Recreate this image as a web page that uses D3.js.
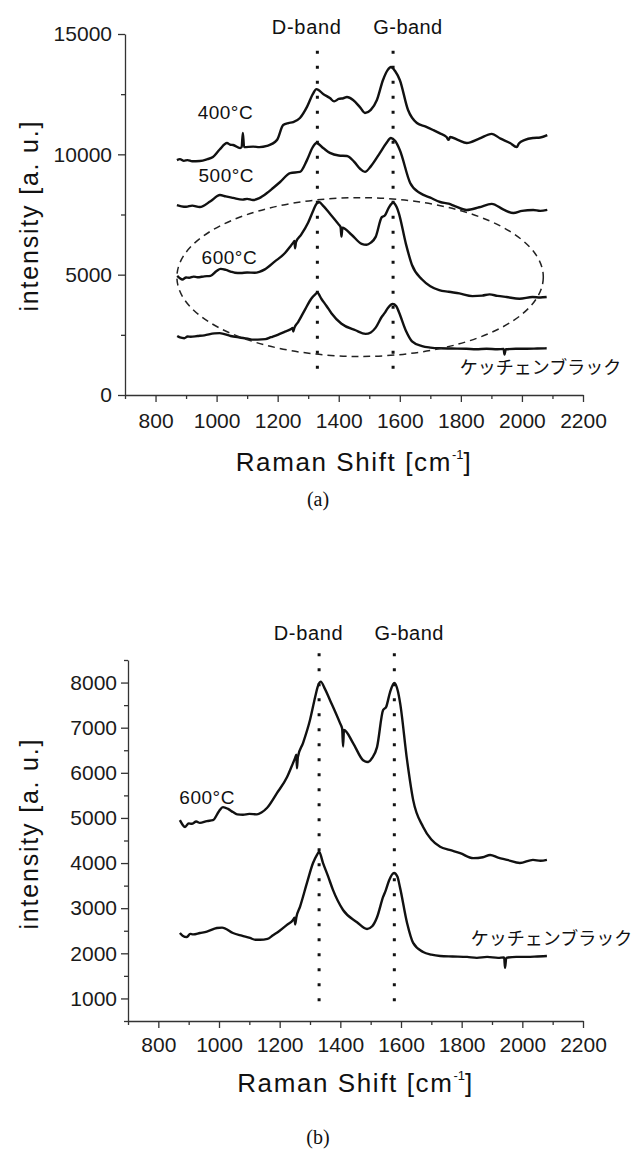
<!DOCTYPE html>
<html>
<head>
<meta charset="utf-8">
<script src="https://cdn.jsdelivr.net/npm/d3@7"></script>
<style>
  body { margin: 0; background: #fff; }
</style>
</head>
<body>
<div id="chart"></div>
<script>
// spectra: [Raman shift (cm-1), intensity (a.u.)]
var s400 = [[870, 9760], [880, 9800], [893, 9730], [905, 9760], [920, 9710], [945, 9720], [970, 9800], [988, 9890], [1010, 10200],
    [1034, 10470], [1045, 10400], [1054, 10390], [1077, 10260], [1082, 10300], [1086, 10890], [1090, 10300], [1120, 10320],
    [1140, 10300], [1165, 10350], [1198, 10600], [1218, 11220], [1235, 11300], [1251, 11340], [1273, 11510], [1296, 11970],
    [1315, 12500], [1327, 12710], [1350, 12500], [1371, 12340], [1385, 12200], [1400, 12300], [1415, 12330], [1427, 12380],
    [1447, 12260], [1470, 11950], [1486, 11720], [1505, 11850], [1525, 12260], [1545, 13090], [1560, 13500], [1571, 13630],
    [1585, 13450], [1600, 13090], [1627, 11840], [1656, 11300], [1685, 11150], [1709, 11010], [1730, 10880], [1753, 10720],
    [1760, 10600], [1765, 10720], [1790, 10600], [1819, 10470], [1860, 10650], [1901, 10850], [1930, 10650], [1961, 10470],
    [1983, 10300], [1990, 10450], [2010, 10600], [2037, 10680], [2060, 10700], [2083, 10800]];

var s500 = [[870, 7890], [885, 7840], [900, 7820], [920, 7870], [945, 7810], [980, 8050], [1011, 8310], [1030, 8250],
    [1054, 8190], [1085, 8120], [1100, 8150], [1119, 8100], [1140, 8180], [1165, 8390], [1185, 8600], [1208, 8850],
    [1241, 9220], [1273, 9270], [1296, 9760], [1315, 10300], [1327, 10470], [1350, 10250], [1371, 10060], [1400, 9950],
    [1427, 9930], [1450, 9700], [1470, 9400], [1486, 9270], [1505, 9500], [1535, 10060], [1555, 10450], [1571, 10680],
    [1585, 10550], [1600, 10180], [1634, 8810], [1666, 8390], [1700, 8200], [1732, 8020], [1760, 7950], [1780, 7850],
    [1819, 7690], [1860, 7800], [1901, 7940], [1940, 7700], [1972, 7560], [2000, 7650], [2037, 7690], [2060, 7650],
    [2083, 7690]];

var s600 = [[871, 4950], [880, 4850], [888, 4800], [900, 4880], [910, 4870], [925, 4920], [937, 4890], [960, 4930],
    [980, 4950], [1000, 5150], [1013, 5240], [1030, 5200], [1046, 5130], [1060, 5080], [1079, 5070], [1100, 5090],
    [1125, 5080], [1140, 5120], [1158, 5220], [1191, 5550], [1224, 5900], [1240, 6150], [1251, 6330], [1255, 6400],
    [1257, 6100], [1260, 6350], [1277, 6660], [1300, 7170], [1317, 7680], [1325, 7900], [1335, 8020], [1350, 7850],
    [1366, 7610], [1399, 7100], [1406, 6980], [1409, 6580], [1412, 6950], [1442, 6660], [1475, 6280], [1491, 6240],
    [1505, 6330], [1521, 6570], [1541, 7390], [1551, 7460], [1564, 7790], [1578, 7990], [1590, 7800], [1597, 7550],
    [1620, 6280], [1640, 5400], [1673, 4800], [1700, 4520], [1729, 4360], [1760, 4290], [1795, 4220], [1838, 4110],
    [1870, 4130], [1894, 4180], [1920, 4120], [1950, 4070], [1992, 4000], [2035, 4070], [2060, 4050], [2081, 4070]];

var sKetjen = [[871, 2450], [880, 2390], [894, 2360], [905, 2430], [915, 2420], [937, 2450], [960, 2480], [993, 2560],
    [1010, 2570], [1046, 2450], [1075, 2390], [1102, 2340], [1120, 2300], [1135, 2300], [1160, 2320], [1178, 2400],
    [1200, 2500], [1224, 2630], [1244, 2740], [1249, 2790], [1251, 2640], [1255, 2800], [1267, 3030], [1290, 3560],
    [1310, 4000], [1323, 4180], [1330, 4250], [1343, 4000], [1360, 3700], [1376, 3400], [1409, 2960], [1455, 2690],
    [1488, 2540], [1505, 2600], [1521, 2800], [1541, 3250], [1550, 3400], [1561, 3620], [1577, 3780], [1588, 3700],
    [1597, 3450], [1620, 2670], [1640, 2230], [1673, 2030], [1700, 1970], [1729, 1940], [1770, 1930], [1818, 1920],
    [1850, 1900], [1884, 1920], [1920, 1900], [1940, 1910], [1943, 1680], [1947, 1900], [1980, 1920], [2016, 1920],
    [2050, 1930], [2081, 1940]];

// band positions and their labels
var bandNames = ["D-band", "G-band"];
var bandShift = [1330, 1578];
var bandLabelShift = [1294, 1626];

// tick values
var xTicks = [800, 1000, 1200, 1400, 1600, 1800, 2000, 2200];
var xMinor = [700, 900, 1100, 1300, 1500, 1700, 1900, 2100];
var yTicksA = [0, 5000, 10000, 15000];
var yMinorA = [2500, 7500, 12500];
var yTicksB = [1000, 2000, 3000, 4000, 5000, 6000, 7000, 8000];
var yMinorB = [500, 1500, 2500, 3500, 4500, 5500, 6500, 7500, 8500];

var W = 636, H = 1151;
var sans = "'Liberation Sans', Arial, sans-serif";

var svg = d3.select("#chart").append("svg")
    .attr("width", W).attr("height", H)
    .style("background", "#fff");

function drawPanel(p) {
    var x = d3.scaleLinear().domain([700, 2200]).range([p.left, p.right]);
    var y = d3.scaleLinear().domain(p.yDomain).range([p.bottom, p.top]);
    var g = svg.append("g");

    // minor ticks
    g.append("g")
        .attr("transform", "translate(0," + p.bottom + ")")
        .call(d3.axisBottom(x).tickValues(xMinor).tickSize(4).tickFormat(""))
        .call(a => a.select(".domain").remove());
    g.append("g")
        .attr("transform", "translate(" + p.left + ",0)")
        .call(d3.axisLeft(y).tickValues(p.yMinor).tickSize(4).tickFormat(""))
        .call(a => a.select(".domain").remove());

    // major axes
    var xa = g.append("g")
        .attr("transform", "translate(0," + p.bottom + ")")
        .call(d3.axisBottom(x).tickValues(xTicks).tickSize(7).tickSizeOuter(0)
            .tickPadding(p.xPad).tickFormat(d3.format("d")));
    var ya = g.append("g")
        .attr("transform", "translate(" + p.left + ",0)")
        .call(d3.axisLeft(y).tickValues(p.yTicks).tickSize(7).tickSizeOuter(0)
            .tickPadding(p.yPad).tickFormat(d3.format("d")));
    g.selectAll(".domain, .tick line").attr("stroke", "#333").attr("stroke-width", 1.3);
    [xa, ya].forEach(function (a) {
        a.selectAll("text").attr("font-family", sans).attr("font-size", 21).attr("fill", "#1a1a1a");
    });

    // dotted band lines and labels
    bandShift.forEach(function (b, i) {
        g.append("line")
            .attr("x1", x(b)).attr("x2", x(b))
            .attr("y1", y(p.bandTop)).attr("y2", y(p.bandBottom))
            .attr("stroke", "#111")
            .attr("stroke-width", 3)
            .attr("stroke-dasharray", "3,12");
        g.append("text")
            .attr("x", x(bandLabelShift[i]))
            .attr("y", p.bandLabelY)
            .attr("text-anchor", "middle")
            .attr("font-family", sans)
            .attr("font-size", 20)
            .attr("textLength", 69)
            .attr("lengthAdjust", "spacing")
            .attr("fill", "#111")
            .text(bandNames[i]);
    });

    // spectra
    var line = d3.line()
        .x(function (d) { return x(d[0]); })
        .y(function (d) { return y(d[1]); })
        .curve(d3.curveMonotoneX);
    p.series.forEach(function (s) {
        g.append("path")
            .datum(s.data)
            .attr("fill", "none")
            .attr("stroke", "#111")
            .attr("stroke-width", 2.4)
            .attr("stroke-linejoin", "round")
            .attr("d", line);
        var t = g.append("text")
            .attr("x", x(s.lx))
            .attr("y", y(s.ly))
            .attr("text-anchor", "middle")
            .attr("fill", "#111")
            .text(s.name);
        if (s.cjk) {
            t.attr("font-family", "'Noto Sans CJK JP', sans-serif").attr("font-size", 18);
        } else {
            t.attr("font-family", sans).attr("font-size", 19)
                .attr("textLength", 55).attr("lengthAdjust", "spacing");
        }
    });

    // dashed ellipse round the 600C / Ketjen pair
    if (p.ellipse) {
        var e = p.ellipse;
        g.append("ellipse")
            .attr("cx", x(e.cx)).attr("cy", y(e.cy))
            .attr("rx", x(e.cx + e.rx) - x(e.cx))
            .attr("ry", y(e.cy - e.ry) - y(e.cy))
            .attr("fill", "none")
            .attr("stroke", "#222")
            .attr("stroke-width", 1.5)
            .attr("stroke-dasharray", "7,5");
    }

    // axis titles
    var cy = (p.top + p.bottom) / 2 + p.yTitleShift;
    g.append("text")
        .attr("transform", "translate(38," + cy + ") rotate(-90)")
        .attr("text-anchor", "middle")
        .attr("font-family", sans)
        .attr("font-size", 25)
        .attr("textLength", 190)
        .attr("lengthAdjust", "spacing")
        .attr("fill", "#111")
        .text("intensity [a. u.]");

    var xt = g.append("text")
        .attr("x", (p.left + p.right) / 2)
        .attr("y", p.xTitleY)
        .attr("text-anchor", "middle")
        .attr("font-family", sans)
        .attr("font-size", 26)
        .attr("letter-spacing", 1.6)
        .attr("fill", "#111");
    xt.append("tspan").text("Raman Shift [cm");
    xt.append("tspan").attr("dy", -12).attr("font-size", 13).attr("letter-spacing", 0).text("-1");
    xt.append("tspan").attr("dy", 12).text("]");

    svg.append("text")
        .attr("x", 318)
        .attr("y", p.captionY)
        .attr("text-anchor", "middle")
        .attr("font-family", "'Liberation Serif', 'Times New Roman', serif")
        .attr("font-size", 20)
        .attr("fill", "#111")
        .text(p.caption);
}

drawPanel({
    left: 125, right: 583, top: 34, bottom: 395,
    yDomain: [0, 15000], yTicks: yTicksA, yMinor: yMinorA,
    xPad: 11, yPad: 6,
    bandTop: 14300, bandBottom: 670, bandLabelY: 34,
    series: [
        { data: s400, name: "400°C", lx: 1028, ly: 11470 },
        { data: s500, name: "500°C", lx: 1031, ly: 8850 },
        { data: s600, name: "600°C", lx: 1041, ly: 5440 },
        { data: sKetjen, name: "ケッチェンブラック", lx: 2061, ly: 870, cjk: true }
    ],
    ellipse: { cx: 1470, cy: 4900, rx: 600, ry: 3300 },
    yTitleShift: 2, xTitleY: 471, captionY: 506, caption: "(a)"
});

drawPanel({
    left: 128, right: 583, top: 660, bottom: 1021,
    yDomain: [500, 8500], yTicks: yTicksB, yMinor: yMinorB,
    xPad: 9, yPad: 4,
    bandTop: 8650, bandBottom: 770, bandLabelY: 640,
    series: [
        { data: s600, name: "600°C", lx: 960, ly: 5310 },
        { data: sKetjen, name: "ケッチェンブラック", lx: 2096, ly: 2180, cjk: true }
    ],
    ellipse: null,
    yTitleShift: -6, xTitleY: 1092, captionY: 1144, caption: "(b)"
});
</script>
</body>
</html>
